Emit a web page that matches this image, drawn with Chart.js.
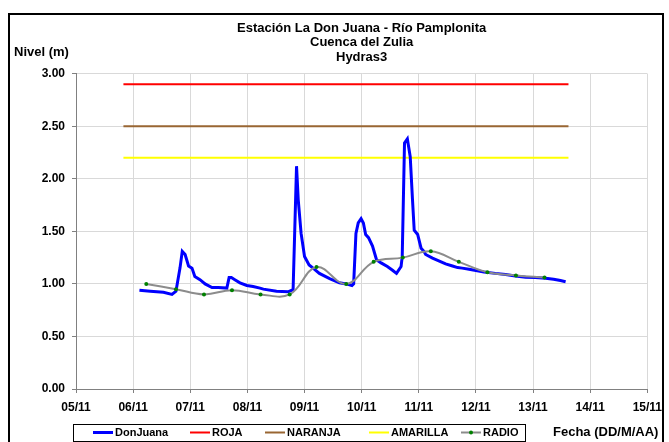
<!DOCTYPE html>
<html>
<head>
<meta charset="utf-8">
<title>Estación La Don Juana - Río Pamplonita</title>
<script src="https://cdn.jsdelivr.net/npm/chart.js@4.4.0/dist/chart.umd.min.js"></script>
<style>
    html, body { margin: 0; padding: 0; background: #ffffff; }
    #wrap { width: 669px; height: 442px; }
</style>
</head>
<body>
<div id="wrap"><canvas id="nivelChart" width="669" height="442"></canvas></div>
<script>
// ================================================
// NIVEL - ESTACION LA DON JUANA (Hydras3)
// x = dia de noviembre (fraccion = hora del dia)
// ================================================

const titleLines = ['Estación La Don Juana - Río Pamplonita', 'Cuenca del Zulia', 'Hydras3'];
const yAxisTitle = 'Nivel (m)';
const xAxisTitle = 'Fecha (DD/M/AA)';

const tickLabels = ['05/11', '06/11', '07/11', '08/11', '09/11', '10/11', '11/11', '12/11', '13/11', '14/11', '15/11'];
const yTickLabels = ['0.00', '0.50', '1.00', '1.50', '2.00', '2.50', '3.00'];

// Serie DonJuana (nivel medido)
const donJuanaDays = [
    6.11, 6.30, 6.53, 6.68, 6.75, 6.82, 6.86, 6.91, 6.97, 7.03,
    7.08, 7.17, 7.26, 7.38, 7.49, 7.64, 7.68, 7.72, 7.78, 7.87,
    7.99, 8.10, 8.22, 8.28, 8.51, 8.71, 8.80, 8.86, 8.89, 8.94,
    9.00, 9.08, 9.15, 9.26, 9.44, 9.61, 9.73, 9.83, 9.86, 9.90,
    9.94, 9.99, 10.03, 10.07, 10.12, 10.19, 10.26, 10.34, 10.45, 10.54,
    10.61, 10.69, 10.71, 10.75, 10.80, 10.85, 10.89, 10.92, 10.98, 11.04,
    11.09, 11.12, 11.24, 11.39, 11.47, 11.59, 11.68, 11.76, 11.88, 12.00,
    12.14, 12.34, 12.52, 12.69, 12.87, 13.04, 13.22, 13.36, 13.48, 13.57
];
const donJuanaNivel = [
    0.94, 0.93, 0.92, 0.90, 0.93, 1.15, 1.31, 1.28, 1.17, 1.15,
    1.07, 1.04, 1.00, 0.965, 0.965, 0.96, 1.06, 1.06, 1.04, 1.01,
    0.985, 0.975, 0.96, 0.95, 0.93, 0.925, 0.945, 2.12, 1.80, 1.48,
    1.26, 1.18, 1.15, 1.10, 1.05, 1.01, 1.00, 0.985, 1.00, 1.48,
    1.58, 1.62, 1.58, 1.47, 1.44, 1.36, 1.23, 1.20, 1.165, 1.13,
    1.10, 1.165, 1.26, 2.34, 2.38, 2.21, 1.80, 1.51, 1.47, 1.34,
    1.31, 1.28, 1.245, 1.21, 1.19, 1.17, 1.155, 1.15, 1.14, 1.127,
    1.114, 1.10, 1.09, 1.076, 1.063, 1.06, 1.054, 1.045, 1.032, 1.02
];

// Serie RADIO (lecturas de radio)
const radioDays = [6.23, 6.75, 7.24, 7.73, 8.23, 8.74, 9.21, 9.73, 10.21, 10.72, 11.21, 11.70, 12.20, 12.70, 13.20];
const radioNivel = [1.00, 0.95, 0.90, 0.94, 0.90, 0.90, 1.16, 1.00, 1.21, 1.25, 1.31, 1.21, 1.11, 1.08, 1.06];

// Umbrales de alerta
const alertNames = ['ROJA', 'NARANJA', 'AMARILLA'];
const alertLevels = [2.90, 2.50, 2.20];
const alertColors = ['#ff0000', '#996633', '#ffff00'];
const alertStartDay = 5.83;
const alertEndDay = 13.62;

const FONT = '"Liberation Sans", Arial, sans-serif';
Chart.defaults.font.family = FONT;
Chart.defaults.color = '#000000';

function toPoints(xs, ys) {
    return xs.map((x, i) => ({ x: x, y: ys[i] }));
}

// Build datasets
const datasets = [
    {
        label: 'DonJuana',
        data: toPoints(donJuanaDays, donJuanaNivel),
        borderColor: '#0000ff',
        backgroundColor: '#0000ff',
        borderWidth: 3,
        pointRadius: 0,
        tension: 0,
        order: 1
    }
];

alertNames.forEach((name, i) => {
    datasets.push({
        label: name,
        data: [{ x: alertStartDay, y: alertLevels[i] }, { x: alertEndDay, y: alertLevels[i] }],
        borderColor: alertColors[i],
        backgroundColor: alertColors[i],
        borderWidth: 2,
        pointRadius: 0,
        order: 1
    });
});

datasets.push({
    label: 'RADIO',
    data: toPoints(radioDays, radioNivel),
    borderColor: '#8c8c8c',
    backgroundColor: '#008000',
    borderWidth: 2,
    pointRadius: 2,
    pointBorderWidth: 0,
    pointBackgroundColor: '#008000',
    tension: 0.4,
    order: 0
});

// Frame, axis titles and boxed legend (Excel style)
const decorPlugin = {
    id: 'decor',
    beforeDraw(chart) {
        const ctx = chart.ctx;
        ctx.save();
        ctx.fillStyle = '#ffffff';
        ctx.fillRect(0, 0, chart.width, chart.height);
        ctx.restore();
    },
    afterDraw(chart) {
        const ctx = chart.ctx;
        ctx.save();

        // outer frame
        ctx.strokeStyle = '#000000';
        ctx.lineWidth = 2;
        ctx.beginPath();
        ctx.moveTo(9, 445);
        ctx.lineTo(9, 14);
        ctx.lineTo(663, 14);
        ctx.lineTo(663, 445);
        ctx.stroke();

        // axis titles
        ctx.fillStyle = '#000000';
        ctx.textBaseline = 'middle';
        ctx.textAlign = 'left';
        ctx.font = 'bold 13px ' + FONT;
        ctx.fillText(yAxisTitle, 14, 52);
        ctx.fillText(xAxisTitle, 553, 432);

        // legend box
        ctx.strokeStyle = '#000000';
        ctx.lineWidth = 1;
        ctx.strokeRect(73.5, 424.5, 452, 17);

        const itemX = [93, 190, 265, 369, 461];
        const ly = 432.5;
        ctx.font = 'bold 11px ' + FONT;
        chart.data.datasets.forEach((ds, i) => {
            const x0 = itemX[i];
            ctx.strokeStyle = ds.borderColor;
            ctx.lineWidth = ds.borderWidth;
            ctx.beginPath();
            ctx.moveTo(x0, ly);
            ctx.lineTo(x0 + 20, ly);
            ctx.stroke();
            if (ds.pointRadius > 0) {
                ctx.fillStyle = ds.pointBackgroundColor;
                ctx.beginPath();
                ctx.arc(x0 + 10, ly, 2, 0, Math.PI * 2);
                ctx.fill();
            }
            ctx.fillStyle = '#000000';
            ctx.fillText(ds.label, x0 + 22, ly);
        });

        ctx.restore();
    }
};

const nivelChart = new Chart(document.getElementById('nivelChart'), {
    type: 'line',
    data: { datasets: datasets },
    plugins: [decorPlugin],
    options: {
        responsive: false,
        animation: false,
        devicePixelRatio: 1,
        layout: {
            padding: { left: 0, right: 20, top: 0, bottom: 0 }
        },
        plugins: {
            legend: { display: false },
            tooltip: { enabled: false },
            title: {
                display: true,
                text: titleLines,
                fullSize: false,
                color: '#000000',
                font: { size: 13, weight: 'bold', lineHeight: 1.12 },
                padding: { top: 21, bottom: 9 }
            }
        },
        scales: {
            x: {
                type: 'linear',
                min: 5,
                max: 15,
                afterFit: function(scale) {
                    scale.height = 53;
                },
                afterBuildTicks: function(scale) {
                    scale.ticks = tickLabels.map((t, i) => ({ value: 5 + i }));
                },
                ticks: {
                    autoSkip: false,
                    maxRotation: 0,
                    padding: 7,
                    color: '#000000',
                    font: { size: 12, weight: 'bold' },
                    callback: function(value, index) {
                        return tickLabels[index];
                    }
                },
                grid: {
                    color: '#d9d9d9',
                    tickColor: '#808080',
                    tickLength: 4,
                    lineWidth: 1
                },
                border: { color: '#808080', width: 1 }
            },
            y: {
                min: 0,
                max: 3,
                afterFit: function(scale) {
                    scale.width = 76;
                },
                afterBuildTicks: function(scale) {
                    scale.ticks = yTickLabels.map((t) => ({ value: parseFloat(t) }));
                },
                ticks: {
                    padding: 7,
                    color: '#000000',
                    font: { size: 12, weight: 'bold' },
                    callback: function(value, index) {
                        return yTickLabels[index];
                    }
                },
                grid: {
                    color: '#d9d9d9',
                    tickColor: '#808080',
                    tickLength: 4,
                    lineWidth: 1
                },
                border: { color: '#808080', width: 1 }
            }
        }
    }
});

console.log('Nivel chart initialized');
</script>
</body>
</html>
